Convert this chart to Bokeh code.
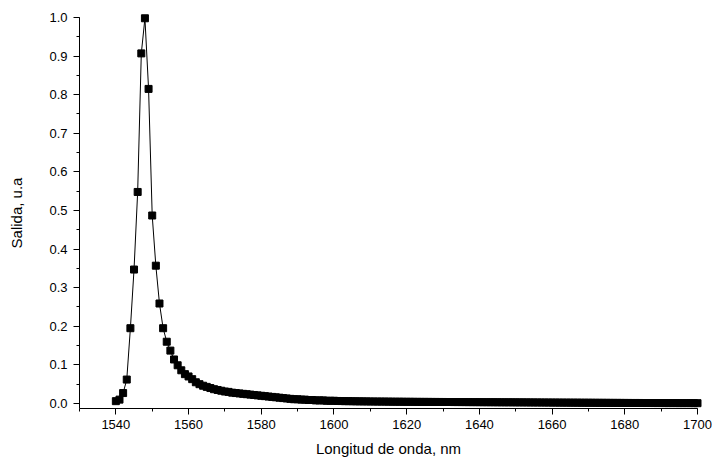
from bokeh.plotting import figure
from bokeh.models import Range1d, FixedTicker, CustomJSTickFormatter
from bokeh.embed import file_html
from bokeh.resources import INLINE

# Wavelength grid (nm), one sample per nanometre
wavelength_start = 1540
wavelength_end = 1700

# Normalised output, 1540-1559 nm (rise, peak and fast decay)
output_peak = [
    0.006, 0.010, 0.027, 0.062, 0.195, 0.347, 0.548, 0.907, 0.998, 0.815,
    0.487, 0.357, 0.259, 0.195, 0.160, 0.137, 0.114, 0.099, 0.086, 0.076,
]

# Normalised output, 1560-1700 nm (long tail)
output_tail = [
    0.070, 0.063, 0.055, 0.050, 0.046, 0.043, 0.040, 0.037, 0.035, 0.033,
    0.031, 0.030, 0.028, 0.027, 0.026, 0.025, 0.024, 0.023, 0.022, 0.021,
    0.020, 0.019, 0.018, 0.017, 0.016, 0.015, 0.014, 0.013, 0.012, 0.011,
    0.011, 0.010, 0.010, 0.009, 0.009, 0.008, 0.008, 0.008, 0.007, 0.007,
    0.007, 0.0065, 0.0063, 0.006, 0.006, 0.0058, 0.0056, 0.0055, 0.0054, 0.0053,
    0.0052, 0.0051, 0.005, 0.005, 0.0049, 0.0048, 0.0047, 0.0046, 0.0046, 0.0045,
    0.0044, 0.0044, 0.0043, 0.0042, 0.0042, 0.0041, 0.0041, 0.004, 0.004, 0.0039,
    0.0039, 0.0038, 0.0038, 0.0037, 0.0037, 0.0036, 0.0036, 0.0035, 0.0035, 0.0034,
    0.0034, 0.0033, 0.0033, 0.0032, 0.0032, 0.0031, 0.0031, 0.003, 0.003, 0.003,
    0.0029, 0.0029, 0.0028, 0.0028, 0.0027, 0.0027, 0.0026, 0.0026, 0.0025, 0.0025,
    0.0024, 0.0024, 0.0023, 0.0023, 0.0022, 0.0022, 0.0021, 0.0021, 0.002, 0.002,
    0.0019, 0.0019, 0.0018, 0.0018, 0.0017, 0.0017, 0.0016, 0.0016, 0.0015, 0.0015,
    0.0014, 0.0014, 0.0013, 0.0013, 0.0013, 0.0012, 0.0012, 0.0012, 0.0011, 0.0011,
    0.0011, 0.001, 0.001, 0.001, 0.001, 0.0009, 0.0009, 0.0009, 0.0009, 0.0008,
    0.0008,
]

x_ticks = [1540, 1560, 1580, 1600, 1620, 1640, 1660, 1680, 1700]
y_ticks = [0.0, 0.1, 0.2, 0.3, 0.4, 0.5, 0.6, 0.7, 0.8, 0.9, 1.0]

wavelength = list(range(wavelength_start, wavelength_end + 1))
output = output_peak + output_tail

p = figure(
    width=712, height=465,
    output_backend="svg", toolbar_location=None,
    x_range=Range1d(1530, 1700), y_range=Range1d(-0.013, 1.0),
    min_border_left=79, min_border_right=15,
    min_border_top=17, min_border_bottom=57,
)
p.outline_line_color = None
p.xgrid.visible = False
p.ygrid.visible = False
p.background_fill_color = "white"
p.border_fill_color = "white"

# Thin connecting line with square markers on every sample
p.line(wavelength, output, line_color="black", line_width=1)
r = p.scatter(wavelength, output, marker="square", size=7,
              fill_color="black", line_color="black")
r.level = "overlay"

font = "Liberation Sans"
for ax in (p.xaxis[0], p.yaxis[0]):
    ax.axis_line_color = "black"
    ax.axis_line_width = 1
    ax.major_tick_line_color = "black"
    ax.minor_tick_line_color = "black"
    ax.major_tick_out = 6
    ax.major_tick_in = 0
    ax.minor_tick_out = 3
    ax.minor_tick_in = 0
    ax.major_label_text_font = font
    ax.major_label_text_font_size = "13px"
    ax.major_label_text_color = "black"
    ax.axis_label_text_font = font
    ax.axis_label_text_font_size = "15px"
    ax.axis_label_text_font_style = "normal"
    ax.axis_label_text_color = "black"

p.xaxis.ticker = FixedTicker(ticks=x_ticks, minor_ticks=list(range(1530, 1701, 10)))
p.yaxis.ticker = FixedTicker(ticks=y_ticks, minor_ticks=[i * 0.05 for i in range(0, 21)])
p.yaxis.formatter = CustomJSTickFormatter(code="return tick.toFixed(1);")
p.xaxis.axis_label = "Longitud de onda, nm"
p.yaxis.axis_label = "Salida, u.a"
p.xaxis.major_label_standoff = 5
p.yaxis.major_label_standoff = 6
p.xaxis.axis_label_standoff = 8
p.yaxis.axis_label_standoff = 21

open("out.html", "w").write(file_html(p, INLINE))
